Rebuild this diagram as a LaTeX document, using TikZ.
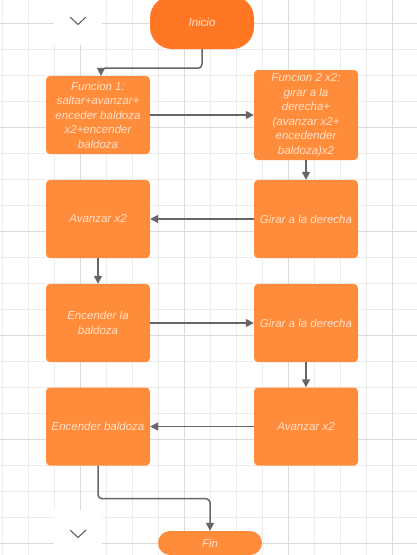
\documentclass[tikz,border=0pt]{standalone}
\usepackage{fontspec}
\setmainfont{Liberation Sans}
\usetikzlibrary{arrows.meta}

\definecolor{boxorange}{HTML}{FF8C3A}
\definecolor{startorange}{HTML}{FF7722}
\definecolor{labelpeach}{HTML}{FFE0C8}
\definecolor{linkgrey}{HTML}{666666}
\definecolor{gridlight}{HTML}{EBEBEB}
\definecolor{griddark}{HTML}{DADADA}

\tikzset{
  stepbox/.style={rectangle, rounded corners=4pt, fill=boxorange, text=labelpeach,
    minimum width=104pt, minimum height=78pt, inner sep=0pt, align=center,
    font=\fontsize{11.5}{14.5}\selectfont\itshape},
  pill/.style={stepbox, rounded corners=#1},
  link/.style={draw=linkgrey, line width=1.5pt, rounded corners=4pt,
    -{Triangle[length=8pt,width=8pt]}}
}

\begin{document}
\begin{tikzpicture}[x=1pt,y=-1pt]
        \useasboundingbox (0,0) rectangle (417,555);
        \fill[white] (0,0) rectangle (417,555);
        \foreach \gx in {0,...,15}
            \draw[gridlight, line width=1pt] ({2.3+26*\gx},0) -- ({2.3+26*\gx},555);
        \foreach \gy in {0,...,20}
            \draw[gridlight, line width=1pt] (0,{23.3+26*\gy}) -- (417,{23.3+26*\gy});
        \foreach \gx in {0,...,3}
            \draw[griddark, line width=1pt] ({80.3+104*\gx},0) -- ({80.3+104*\gx},555);
        \foreach \gy in {0,...,5}
            \draw[griddark, line width=1pt] (0,{23.3+104*\gy}) -- (417,{23.3+104*\gy});
        \fill[white] (54,0) rectangle (102,45);
        \fill[white] (54,510) rectangle (102,555);
        \draw[linkgrey!85!black, line width=1pt] (70,17) -- (78,24.5) -- (86,17);
        \draw[linkgrey!85!black, line width=1pt] (70,530) -- (78,537.5) -- (86,530);
        \node[pill=22pt, fill=startorange, minimum height=53pt] (inicio) at (202,22.5) {Inicio};
        \node[stepbox] (funcuno) at (98,115) {Funcion 1:\\saltar+avanzar+\\enceder baldoza\\x2+encender\\baldoza};
        \node[stepbox, minimum height=90pt] (funcdos) at (306,115) {Funcion 2 x2:\\girar a la\\derecha+\\(avanzar x2+\\encedender\\baldoza)x2};
        \node[stepbox] (avanzaruno) at (98,219) {Avanzar x2};
        \node[stepbox] (giraruno) at (306,219) {Girar a la derecha};
        \node[stepbox] (encenderuno) at (98,323) {Encender la\\baldoza};
        \node[stepbox] (girardos) at (306,323) {Girar a la derecha};
        \node[stepbox] (encenderdos) at (98,426.5) {Encender baldoza};
        \node[stepbox] (avanzardos) at (306,426.5) {Avanzar x2};
        \node[pill=12pt, minimum height=24pt] (fin) at (210,543) {Fin};
        \draw[link] (inicio.south) -- ++(0,19) -| ([xshift=3pt]funcuno.north);
        \draw[link] (funcuno) -- (funcdos);
        \draw[link] (funcdos) -- (giraruno);
        \draw[link] (giraruno) -- (avanzaruno);
        \draw[link] (avanzaruno) -- (encenderuno);
        \draw[link] (encenderuno) -- (girardos);
        \draw[link] (girardos) -- (avanzardos);
        \draw[link] (avanzardos) -- (encenderdos);
        \draw[link] (encenderdos.south) -- ++(0,33) -| (fin.north);
    \end{tikzpicture}
\end{document}
